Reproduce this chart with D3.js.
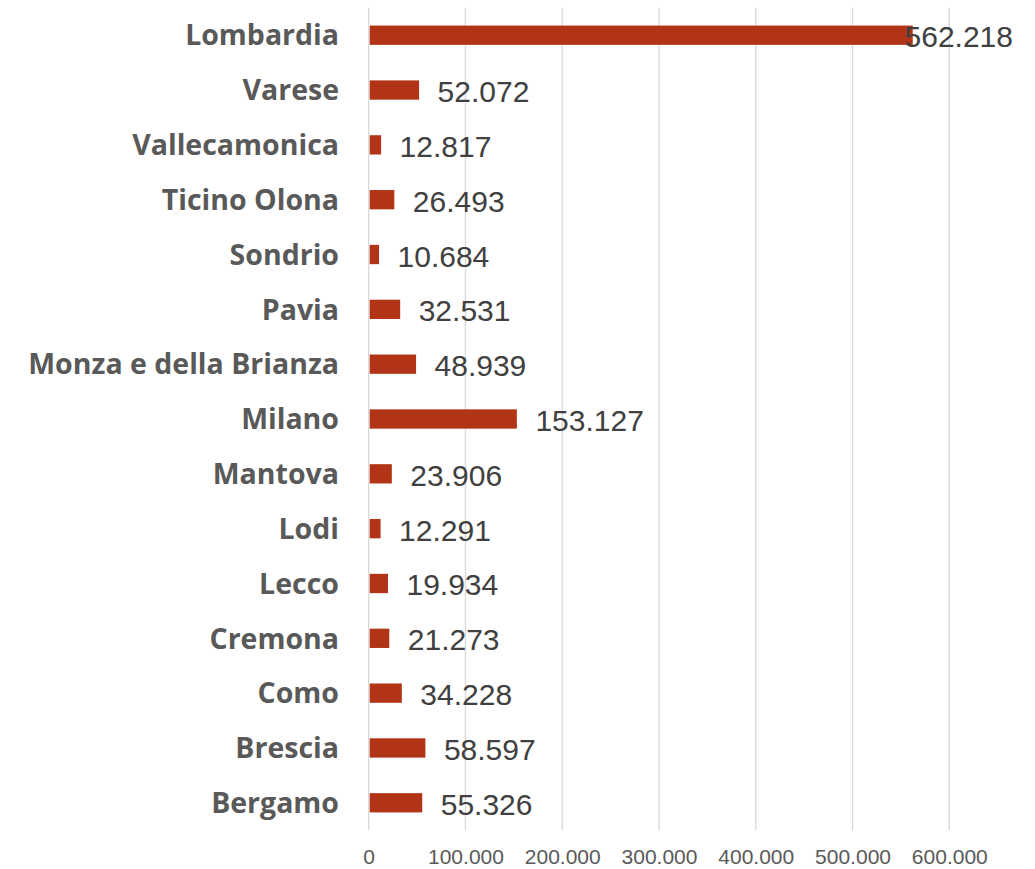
<!DOCTYPE html>
<html>
<head>
<meta charset="utf-8">
<script src="https://cdn.jsdelivr.net/npm/d3@7/dist/d3.min.js"></script>
<style>
  html, body { margin: 0; padding: 0; background: #ffffff; }
  svg { display: block; }
</style>
</head>
<body>
<svg id="chart" width="1035" height="869"></svg>
<script>
// Provinces (top to bottom) and their values
const categories = [
  "Lombardia", "Varese", "Vallecamonica", "Ticino Olona", "Sondrio", "Pavia",
  "Monza e della Brianza", "Milano", "Mantova", "Lodi", "Lecco", "Cremona",
  "Como", "Brescia", "Bergamo"
];
const values = [
  562218, 52072, 12817, 26493, 10684, 32531,
  48939, 153127, 23906, 12291, 19934, 21273,
  34228, 58597, 55326
];
const tickValues = [0, 100000, 200000, 300000, 400000, 500000, 600000];

const data = categories.map((c, i) => ({ name: c, value: values[i] }));

const svg = d3.select("#chart");
const plotLeft = 368.7, plotRight = 949.3, plotTop = 7.8, plotBottom = 830.2;
const labelLimit = 1013;

const x = d3.scaleLinear().domain([0, 600000]).range([plotLeft, plotRight]);
const y = d3.scaleBand().domain(categories).range([plotTop, plotBottom])
  .paddingInner(0.648).paddingOuter(0.324);

const fmt = v => d3.format(",")(v).replace(/,/g, ".");

// vertical gridlines
svg.append("g").selectAll("line").data(tickValues).join("line")
  .attr("x1", d => x(d)).attr("x2", d => x(d))
  .attr("y1", plotTop).attr("y2", plotBottom)
  .attr("stroke", "#d9d9d9").attr("stroke-width", 1.3);

// x axis tick labels
const xAxis = d3.axisBottom(x).tickValues(tickValues).tickFormat(fmt).tickSize(0).tickPadding(0);
const gx = svg.append("g").attr("transform", "translate(0, 850)").call(xAxis);
gx.select(".domain").remove();
gx.selectAll("text")
  .attr("y", 7).attr("dy", "0.35em")
  .attr("fill", "#595959")
  .style("font-family", "'Liberation Sans', Arial, sans-serif")
  .style("font-size", "21px");

// category axis labels
const yAxis = d3.axisLeft(y).tickSize(0).tickPadding(0);
const gy = svg.append("g").attr("transform", "translate(339, 0)").call(yAxis);
gy.select(".domain").remove();
gy.selectAll("text")
  .attr("dy", "0.36em")
  .attr("fill", "#595959")
  .style("font-family", "'Open Sans', sans-serif")
  .style("font-weight", "700")
  .style("font-size", "28.5px");

// bars
svg.append("g").selectAll("rect").data(data).join("rect")
  .attr("x", x(0) + 1)
  .attr("y", d => y(d.name))
  .attr("width", d => x(d.value) - x(0) - 1)
  .attr("height", y.bandwidth())
  .attr("fill", "#b23416");

// value labels
const vl = svg.append("g").selectAll("text").data(data).join("text")
  .attr("y", d => y(d.name) + y.bandwidth() / 2 + 1.5)
  .attr("dy", "0.35em")
  .attr("fill", "#404040")
  .style("font-family", "'Liberation Sans', Arial, sans-serif")
  .style("font-size", "30px")
  .text(d => fmt(d.value));
vl.attr("x", function(d) {
  const w = this.getComputedTextLength();
  return Math.min(x(d.value) + 18.5, labelLimit - w);
});
</script>
</body>
</html>
